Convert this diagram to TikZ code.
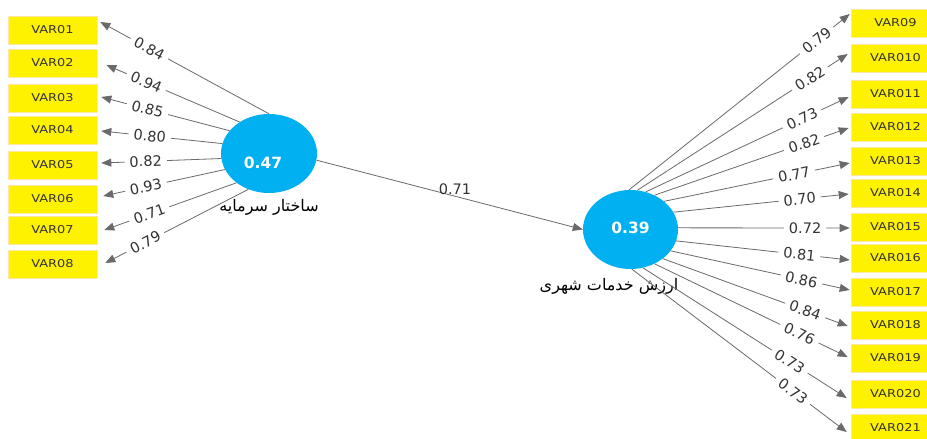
\documentclass[tikz,border=0pt]{standalone}
\usepackage{fontspec}
\setmainfont{DejaVu Sans}
\newfontfamily\arabicfont[Script=Arabic]{DejaVu Sans}
\newfontfamily\boxfont[FakeStretch=1.2]{DejaVu Sans}
\TeXXeTstate=1
\usetikzlibrary{shapes.geometric,arrows.meta}
\definecolor{latblue}{HTML}{00B0F0}
\definecolor{boxedge}{HTML}{FFE8A0}
\definecolor{linegray}{HTML}{6A6A6A}
\definecolor{txtgray}{HTML}{333333}
\begin{document}
\begin{tikzpicture}[x=1pt, y=-1pt,
  ind/.style={rectangle, fill=yellow, draw=boxedge, line width=0.6pt, minimum width=89pt, minimum height=28pt, inner sep=0pt, font=\boxfont\fontsize{10.8}{11}\selectfont, text=txtgray},
  lat/.style={ellipse, fill=latblue, inner sep=0pt},
  val/.style={font=\bfseries\fontsize{15.5}{16}\selectfont, text=white},
  ld/.style={draw=linegray, line width=0.8pt, -{Triangle[length=10pt,width=8pt]}},
  lbl/.style={fill=white, sloped, inner xsep=5pt, inner ysep=1pt, font=\fontsize{14.5}{15}\selectfont, text=txtgray},
  nm/.style={font=\arabicfont\fontsize{16}{16}\selectfont, text=black}]
\useasboundingbox[fill=white] (0,0) rectangle (927,439);
\node[ind] (v1) at (52.5,30) {VAR01};
\node[ind] (v2) at (52.5,63) {VAR02};
\node[ind] (v3) at (52.5,98) {VAR03};
\node[ind] (v4) at (52.5,130) {VAR04};
\node[ind] (v5) at (52.5,165) {VAR05};
\node[ind] (v6) at (52.5,199) {VAR06};
\node[ind] (v7) at (52.5,230) {VAR07};
\node[ind] (v8) at (52.5,264) {VAR08};
\node[ind] (v9) at (895.5,23) {VAR09};
\node[ind] (v10) at (895.5,58) {VAR010};
\node[ind] (v11) at (895.5,94) {VAR011};
\node[ind] (v12) at (895.5,127) {VAR012};
\node[ind] (v13) at (895.5,161) {VAR013};
\node[ind] (v14) at (895.5,193) {VAR014};
\node[ind] (v15) at (895.5,227) {VAR015};
\node[ind] (v16) at (895.5,258) {VAR016};
\node[ind] (v17) at (895.5,292) {VAR017};
\node[ind] (v18) at (895.5,325) {VAR018};
\node[ind] (v19) at (895.5,358) {VAR019};
\node[ind] (v20) at (895.5,394) {VAR020};
\node[ind] (v21) at (895.5,428) {VAR021};
\node[lat, minimum width=96pt, minimum height=79pt] (c1) at (269,153.5){};
\node[lat, minimum width=95pt, minimum height=79pt] (c2) at (630.5,229.5){};
\node[val] (r1) at (263,163) {0.47};
\node[val] (r2) at (630.5,228) {0.39};
\node[nm] (n1) at (269,207) {\beginR ساختار سرمایه\endR};
\node[nm] (n2) at (609,286) {\beginR ارزش خدمات شهری\endR};
% left block
\draw[ld] (c1.90) -- node[lbl, pos=.71] {0.84} ([shift={(3,-8)}]v1.east);
\draw[ld] (c1.133) -- node[lbl, pos=.70] {0.94} ([shift={(9,2)}]v2.east);
\draw[ld] (c1.150) -- node[lbl, pos=.64] {0.85} ([shift={(4,-1)}]v3.east);
\draw[ld] (c1.168) -- node[lbl, pos=.60] {0.80} ([shift={(4,1)}]v4.east);
\draw[ld] (c1.186) -- node[lbl, pos=.63] {0.82} ([shift={(4,-2)}]v5.east);
\draw[ld] (c1.200) -- node[lbl, pos=.65] {0.93} ([shift={(6,-3)}]v6.east);
\draw[ld] (c1.222) -- node[lbl, pos=.66] {0.71} ([shift={(7,0)}]v7.east);
\draw[ld] (c1.240) -- node[lbl, pos=.72] {0.79} ([shift={(8,-1)}]v8.east);
% inner path
\draw[ld] (c1.-8) -- node[pos=.52, above, inner sep=1pt, font=\fontsize{14.5}{15}\selectfont, text=txtgray] {0.71} (c2.west);
% right block
\draw[ld] (c2.92) -- node[lbl, pos=.85] {0.79} ([shift={(-1,-9)}]v9.west);
\draw[ld] (c2.80) -- node[lbl, pos=.82] {0.82} ([shift={(-3,-4)}]v10.west);
\draw[ld] (c2.68) -- node[lbl, pos=.77] {0.73} ([shift={(-2,3)}]v11.west);
\draw[ld] (c2.55) -- node[lbl, pos=.77] {0.82} ([shift={(-2,1)}]v12.west);
\draw[ld] (c2.40) -- node[lbl, pos=.70] {0.77} ([shift={(-1,2)}]v13.west);
\draw[ld] (c2.22) -- node[lbl, pos=.72] {0.70} ([shift={(-2,1)}]v14.west);
\draw[ld] (c2.2) -- node[lbl, pos=.74] {0.72} ([shift={(-1,1)}]v15.west);
\draw[ld] (c2.-14) -- node[lbl, pos=.71] {0.81} ([shift={(-1,2)}]v16.west);
\draw[ld] (c2.-28) -- node[lbl, pos=.73] {0.86} ([shift={(-1,-2)}]v17.west);
\draw[ld] (c2.-42) -- node[lbl, pos=.77] {0.84} ([shift={(-3,1)}]v18.west);
\draw[ld] (c2.-55) -- node[lbl, pos=.75] {0.76} ([shift={(-3,-1)}]v19.west);
\draw[ld] (c2.-72) -- node[lbl, pos=.72] {0.73} ([shift={(-4,4)}]v20.west);
\draw[ld] (c2.-88) -- node[lbl, pos=.75] {0.73} ([shift={(-4,4)}]v21.west);
\end{tikzpicture}
\end{document}
